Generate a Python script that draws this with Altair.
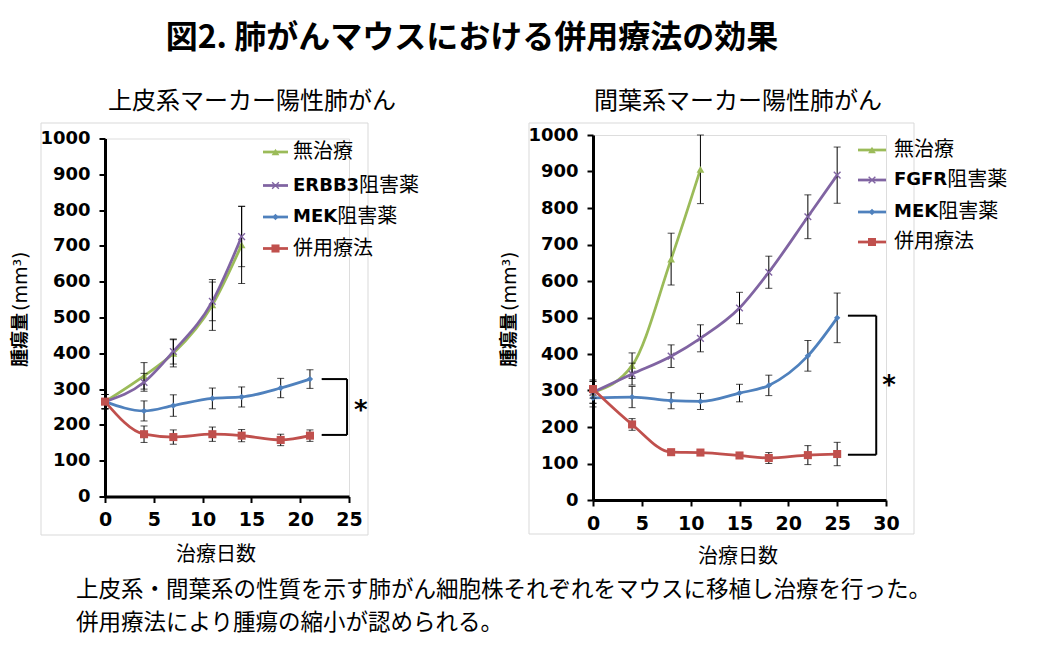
import altair as alt
import pandas as pd

# ---------------- data ----------------
L_days_untreated = [0, 4, 7, 11, 14]
L_untreated = [265, 337, 400, 535, 703]
L_untreated_err = [20, 37, 38, 71, 108]
L_days_erbb3 = [0, 4, 7, 11, 14]
L_erbb3 = [265, 319, 405, 545, 726]
L_erbb3_err = [20, 25, 35, 54, 84]
L_days_long = [0, 4, 7, 11, 14, 18, 21]
L_mek = [265, 239, 254, 274, 278, 303, 328]
L_mek_err = [20, 28, 30, 29, 28, 27, 26]
L_combo = [265, 174, 166, 174, 170, 158, 170]
L_combo_err = [20, 23, 20, 20, 17, 16, 16]

R_days_untreated = [0, 4, 8, 11]
R_untreated = [295, 368, 660, 906]
R_untreated_err = [30, 35, 71, 94]
R_days = [0, 4, 8, 11, 15, 18, 22, 25]
R_fgfr = [295, 345, 394, 443, 526, 624, 776, 890]
R_fgfr_err = [30, 30, 31, 37, 43, 44, 60, 77]
R_mek = [280, 282, 272, 270, 293, 314, 395, 499]
R_mek_err = [25, 29, 22, 22, 24, 28, 42, 68]
R_combo = [304, 207, 131, 130, 122, 115, 123, 126]
R_combo_err = [25, 16, 5, 5, 8, 15, 26, 32]

L_legend = [("", "無治療"), ("ERBB3", "阻害薬"), ("MEK", "阻害薬"), ("", "併用療法")]
R_legend = [("", "無治療"), ("FGFR", "阻害薬"), ("MEK", "阻害薬"), ("", "併用療法")]

L_bracket_days = [22.2, 24.8]
L_bracket_vals = [328, 172]
L_star = [26.2, 255]
R_bracket_days = [26.1, 29.0]
R_bracket_vals = [505, 124]
R_star = [30.3, 330]

TITLE = "図2. 肺がんマウスにおける併用療法の効果"
L_TITLE = "上皮系マーカー陽性肺がん"
R_TITLE = "間葉系マーカー陽性肺がん"
X_TITLE = "治療日数"
NOTE1 = "上皮系・間葉系の性質を示す肺がん細胞株それぞれをマウスに移植し治療を行った。"
NOTE2 = "併用療法により腫瘍の縮小が認められる。"

# ---------------- styles ----------------
GREEN, PURPLE, BLUE, RED = "#9BBB59", "#8064A2", "#4F81BD", "#C0504D"
CROSS = "M-1,-1L1,1M-1,1L1,-1"
STYLES = [
    dict(color=GREEN, shape="triangle-up", size=60, filled=True),
    dict(color=PURPLE, shape=CROSS, size=45, filled=False),
    dict(color=BLUE, shape="diamond", size=40, filled=True),
    dict(color=RED, shape="square", size=65, filled=True),
]
JP = "Noto Sans CJK JP"
LAT = "DejaVu Sans"
DUMMY = pd.DataFrame({"a": [0]})


def txt(s, x, y, size, weight="normal", font=JP, align="left", angle=0, baseline="middle"):
    kw = dict(text=s, font=font, fontSize=size, fontWeight=weight, align=align,
              baseline=baseline, color="black")
    if angle:
        kw["angle"] = angle
    return alt.Chart(DUMMY).mark_text(**kw).encode(x=alt.value(x), y=alt.value(y))


def panel(series, xmax, W, H, legend, leg, bracket_days, bracket_vals, star, extra):
    xs = alt.Scale(domain=[0, xmax], nice=False, zero=True)
    ys = alt.Scale(domain=[0, 1000], nice=False)
    common = dict(title=None, grid=False, domainColor="black", domainWidth=3,
                  tickColor="black", tickWidth=2, tickSize=6, labelFlush=False,
                  labelFont=LAT, labelFontWeight="bold",
                  labelColor="black", format="d")
    xa = alt.Axis(values=list(range(0, xmax + 1, 5)), labelPadding=8, labelFontSize=19, **common)
    ya = alt.Axis(values=list(range(0, 1001, 100)), labelPadding=9, labelFontSize=18, **common)

    def X(f):
        return alt.X(f, type="quantitative", scale=xs, axis=xa)

    def Y(f):
        return alt.Y(f, type="quantitative", scale=ys, axis=ya)

    layers = []
    # border box
    bx0, bx1, by0, by1 = extra["box"]
    layers.append(alt.Chart(DUMMY).mark_rect(fillOpacity=0, stroke="#D9D9D9", strokeWidth=1)
                  .encode(x=alt.value(bx0), x2=alt.value(bx1), y=alt.value(by0), y2=alt.value(by1)))
    dfs = []
    for (days, vals, errs), st in zip(series, STYLES):
        df = pd.DataFrame({"day": days, "val": vals,
                           "lo": [v - e for v, e in zip(vals, errs)],
                           "hi": [v + e for v, e in zip(vals, errs)]})
        dfs.append((df, st))
    for df, st in dfs:
        base = alt.Chart(df)
        layers.append(base.mark_line(color=st["color"], strokeWidth=2.75, interpolate="monotone")
                      .encode(x=X("day"), y=Y("val")))
        layers.append(base.mark_rule(color="black", strokeWidth=1)
                      .encode(x=X("day"), y=Y("lo"), y2="hi:Q"))
        for f in ("lo", "hi"):
            layers.append(base.mark_tick(color="black", orient="horizontal", size=7, thickness=1)
                          .encode(x=X("day"), y=Y(f)))
        pkw = dict(shape=st["shape"], size=st["size"], filled=st["filled"], opacity=1,
                   color=st["color"])
        if not st["filled"]:
            pkw["strokeWidth"] = 1.4
        layers.append(base.mark_point(**pkw).encode(x=X("day"), y=Y("val")))

    # significance bracket
    d0, d1 = bracket_days
    top, bot = bracket_vals
    br = pd.DataFrame({"x": [d0, d0, d1], "x2": [d1, d1, d1],
                       "y": [top, bot, bot], "y2": [top, bot, top]})
    layers.append(alt.Chart(br).mark_rule(color="black", strokeWidth=2)
                  .encode(x=X("x"), x2="x2:Q", y=Y("y"), y2="y2:Q"))
    st_df = pd.DataFrame({"x": [star[0]], "y": [star[1]], "t": ["*"]})
    layers.append(alt.Chart(st_df).mark_text(font=LAT, fontWeight="bold", fontSize=26,
                                             baseline="alphabetic", dy=14, color="black")
                  .encode(x=X("x"), y=Y("y"), text="t:N"))

    # legend
    lx0, lx1, tx, rows = leg
    for (pre, suf), st, ry in zip(legend, STYLES, rows):
        layers.append(alt.Chart(DUMMY).mark_rule(color=st["color"], strokeWidth=2.75)
                      .encode(x=alt.value(lx0), x2=alt.value(lx1), y=alt.value(ry)))
        pkw = dict(shape=st["shape"], size=st["size"], filled=st["filled"], opacity=1,
                   color=st["color"])
        if not st["filled"]:
            pkw["strokeWidth"] = 1.4
        layers.append(alt.Chart(DUMMY).mark_point(**pkw)
                      .encode(x=alt.value((lx0 + lx1) / 2), y=alt.value(ry)))
        off = 0
        if pre:
            layers.append(txt(pre, tx, ry, 18, "bold", LAT))
            widths = {"E": 0.683, "R": 0.770, "B": 0.762, "3": 0.696, "M": 0.995,
                      "K": 0.775, "F": 0.683, "G": 0.821}
            off = sum(widths[c] for c in pre) * 18
        layers.append(txt(suf, tx + off, ry, 20))

    # titles
    sx, sy = extra["sub"]
    layers.append(txt(extra["subtitle"], sx, sy, 24, align="center"))
    yx, yy = extra["ytitle"]
    layers.append(txt("腫瘍量", yx, yy, 18, "bold", JP, align="right", angle=270))
    layers.append(txt("(mm³)", yx, yy - 2, 19, "normal", LAT, align="left", angle=270))
    xx, xy = extra["xtitle"]
    layers.append(txt(X_TITLE, xx, xy, 20, align="center"))
    for item in extra.get("more", []):
        layers.append(item)

    return alt.layer(*layers).properties(width=W, height=H)


left = panel(
    [(L_days_untreated, L_untreated, L_untreated_err),
     (L_days_erbb3, L_erbb3, L_erbb3_err),
     (L_days_long, L_mek, L_mek_err),
     (L_days_long, L_combo, L_combo_err)],
    25, 244, 358, L_legend, (158, 183, 188, [13.5, 47, 78.5, 110]),
    L_bracket_days, L_bracket_vals, L_star,
    dict(box=(-64, 263, -15.5, 396.5), sub=(147, -36.5), subtitle=L_TITLE,
         ytitle=(-84, 174.5), xtitle=(111, 416.5),
         more=[txt(TITLE, 367, -100.5, 32, "bold", align="center"),
               txt(NOTE1, -29, 451.5, 22.5),
               txt(NOTE2, -29, 484.5, 22.5)]),
)

right = panel(
    [(R_days_untreated, R_untreated, R_untreated_err),
     (R_days, R_fgfr, R_fgfr_err),
     (R_days, R_mek, R_mek_err),
     (R_days, R_combo, R_combo_err)],
    30, 293, 365, R_legend, (265, 293, 301, [15, 45, 77, 107]),
    R_bracket_days, R_bracket_vals, R_star,
    dict(box=(-64, 321, -12, 399), sub=(145, -33), subtitle=R_TITLE,
         ytitle=(-83, 178), xtitle=(145, 422)),
)

chart = alt.hconcat(left, right, spacing=244, bounds="flush", center=True).properties(
    padding={"left": 11, "top": 21, "right": 5, "bottom": 5}
).configure_view(strokeOpacity=0).configure(background="white")

chart.save("out.html", embed_options={"renderer": "svg", "actions": False})
